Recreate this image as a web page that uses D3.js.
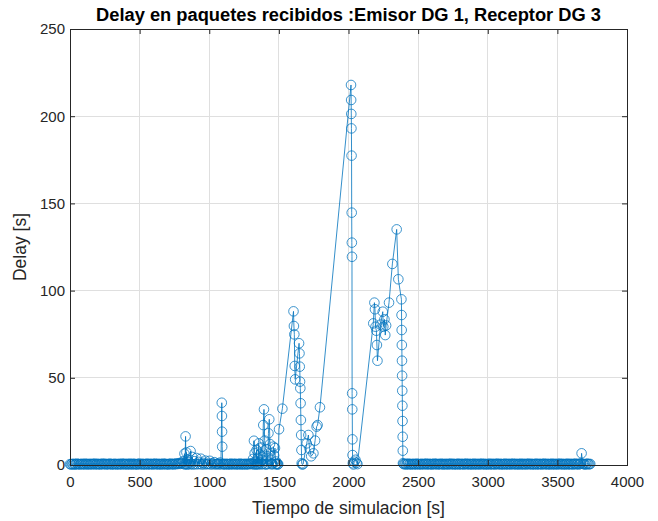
<!DOCTYPE html>
<html><head><meta charset="utf-8">
<script src="https://cdn.jsdelivr.net/npm/d3@7"></script>
<style>body{margin:0;background:#fff}</style></head>
<body>
<svg id="c" width="658" height="521"></svg>
<script>
const titleText = "Delay en paquetes recibidos :Emisor DG 1, Receptor DG 3";
const xLabel = "Tiempo de simulacion [s]";
const yLabel = "Delay [s]";
const xTicks = [0,500,1000,1500,2000,2500,3000,3500,4000];
const yTicks = [0,50,100,150,200,250];

// [tiempo (s), delay (s)]
const segA = [[0,0.5],[7,0.3],[14,0.6],[21,0.4],[28,0.7],[35,0.2],[42,0.5],[49,0.8],[56,0.4],[63,0.6],[70,0.3],[77,0.5],[84,0.7],[91,0.4],[98,0.6],[105,0.3],[112,0.8],[119,0.5],[126,0.4],[133,0.6],[140,0.3],[147,0.7],[154,0.5],[161,0.4],[168,0.6],[175,0.8],[182,0.3],[189,0.5],[196,0.7],[203,0.4],[210,0.6],[217,0.3],[224,0.5],[231,0.8],[238,0.4],[245,0.6],[252,0.7],[259,0.3],[266,0.5],[273,0.6],[280,0.4],[287,0.8],[294,0.5],[301,0.3],[308,0.6],[315,0.4],[322,0.7],[329,0.5],[336,0.3],[343,0.6],[350,0.4],[357,0.7],[364,0.5],[371,0.3],[378,0.8],[385,0.6],[392,0.4],[399,0.5],[406,0.7],[413,0.3],[420,0.6],[427,0.4],[434,0.8],[441,0.5],[448,0.3],[455,0.6],[462,0.7],[469,0.4],[476,0.5],[483,0.3],[490,0.6],[497,0.8],[504,0.4],[511,0.5],[518,0.7],[525,0.3],[532,0.6],[539,0.4],[546,0.5],[553,0.8],[560,0.3],[567,0.6],[574,0.4],[581,0.7],[588,0.5],[595,0.3],[602,0.6],[609,0.8],[616,0.4],[623,0.5],[630,0.7],[637,0.3],[644,0.6],[651,0.4],[658,0.5],[665,0.8],[672,0.3],[679,0.6],[686,0.7],[693,0.4],[700,0.5],[707,0.3],[714,0.6],[721,0.8],[728,0.4],[735,0.5],[742,0.7],[749,0.3],[756,0.6],[763,0.9],[770,0.5],[777,0.7],[784,1.1],[791,0.6],[798,1.2],[805,0.8]];
const cluster1 = [[812,2.1],[819,0.5],[822,6.5],[826,0.4],[830,16.4],[833,0.6],[836,7.2],[840,0.3],[845,3.0],[850,0.5],[856,1.5],[861,0.4],[866,8.0],[871,0.6],[878,4.6],[884,0.3],[892,2.2],[899,0.5],[908,4.0],[915,0.4],[924,1.8],[931,0.6],[940,3.6],[947,0.3],[956,1.2],[963,0.5],[972,2.5],[979,0.4],[988,0.8],[995,0.6],[1004,2.4],[1011,0.3],[1020,1.0],[1027,0.5],[1036,1.6],[1043,0.4],[1050,0.5],[1057,0.6],[1064,0.9],[1071,0.3],[1078,1.4],[1084,0.5],[1090,35.7],[1091,28.1],[1092,19.1],[1093,10.5],[1097,0.6]];
const segB = [[1101,0.4],[1108,0.6],[1115,0.3],[1122,0.7],[1129,0.5],[1136,0.4],[1143,0.6],[1150,0.3],[1157,0.8],[1164,0.5],[1171,0.4],[1178,0.6],[1185,0.7],[1192,0.3],[1199,0.5],[1206,0.6],[1213,0.4],[1220,0.8],[1227,0.3],[1234,0.6],[1241,0.5],[1248,0.4],[1255,0.7],[1262,0.3],[1269,0.6],[1276,0.5],[1283,0.4],[1290,0.8],[1297,0.6],[1304,0.9]];
const cluster2 = [[1311,0.5],[1315,3.5],[1318,0.4],[1321,13.9],[1326,6.7],[1329,0.5],[1333,2.0],[1337,0.3],[1340,8.6],[1344,0.6],[1348,4.0],[1352,0.4],[1355,12.4],[1360,1.5],[1363,0.5],[1366,6.0],[1372,10.0],[1376,0.4],[1380,3.0],[1384,0.6],[1388,22.9],[1393,31.9],[1398,14.0],[1402,0.5],[1405,2.5],[1409,0.3],[1412,9.0],[1418,5.0],[1421,0.6],[1425,18.2],[1431,26.2],[1436,12.0],[1442,3.0],[1446,0.4],[1450,1.0],[1455,0.5],[1460,10.5],[1466,5.5],[1472,9.7],[1476,0.4],[1480,2.0],[1484,0.6],[1488,0.8],[1492,0.3],[1495,0.5],[1501,20.5],[1525,32.3],[1605,88.1],[1608,79.7],[1611,74.9],[1614,56.8],[1617,49.1],[1645,69.8],[1648,64.0],[1650,56.4],[1652,47.8],[1654,44.0],[1656,35.4],[1658,25.8],[1660,17.2],[1662,8.6],[1664,1.0],[1668,0.3],[1674,0.5],[1700,12.4],[1712,17.2],[1720,9.5],[1732,5.0],[1748,6.7],[1760,14.0],[1771,22.0],[1778,22.9],[1795,33.1]];
const cluster3 = [[2018,217.9],[2019,209.3],[2020,201.3],[2021,193.0],[2022,177.4],[2023,144.7],[2024,127.5],[2025,119.4],[2026,41.1],[2027,31.9],[2028,14.7],[2029,5.7],[2031,1.0],[2036,0.3],[2042,1.9],[2050,3.0],[2058,1.2],[2064,0.5]];
const cluster4 = [[2178,81.2],[2186,93.1],[2190,89.3],[2194,79.3],[2200,77.0],[2204,68.8],[2208,59.8],[2230,80.5],[2246,87.9],[2250,79.3],[2258,83.5],[2264,74.5],[2270,80.0],[2291,93.1],[2315,115.3],[2346,135.1],[2358,106.5],[2380,95.0],[2381,86.0],[2382,77.4],[2383,68.8],[2384,59.8],[2385,51.2],[2386,42.6],[2387,34.0],[2388,25.2],[2389,16.2],[2390,8.2],[2391,1.0]];
const segC = [[2395,0.6],[2402,0.4],[2409,0.7],[2416,0.3],[2423,0.5],[2430,0.8],[2437,0.4],[2444,0.6],[2451,0.3],[2458,0.5],[2465,0.7],[2472,0.4],[2479,0.6],[2486,0.3],[2493,0.8],[2500,0.5],[2507,0.4],[2514,0.6],[2521,0.3],[2528,0.7],[2535,0.5],[2542,0.4],[2549,0.6],[2556,0.8],[2563,0.3],[2570,0.5],[2577,0.7],[2584,0.4],[2591,0.6],[2598,0.3],[2605,0.5],[2612,0.8],[2619,0.4],[2626,0.6],[2633,0.7],[2640,0.3],[2647,0.5],[2654,0.6],[2661,0.4],[2668,0.8],[2675,0.5],[2682,0.3],[2689,0.6],[2696,0.4],[2703,0.7],[2710,0.5],[2717,0.3],[2724,0.6],[2731,0.8],[2738,0.4],[2745,0.5],[2752,0.7],[2759,0.3],[2766,0.6],[2773,0.4],[2780,0.5],[2787,0.8],[2794,0.3],[2801,0.6],[2808,0.4],[2815,0.7],[2822,0.5],[2829,0.3],[2836,0.6],[2843,0.8],[2850,0.4],[2857,0.5],[2864,0.7],[2871,0.3],[2878,0.6],[2885,0.4],[2892,0.5],[2899,0.8],[2906,0.3],[2913,0.6],[2920,0.4],[2927,0.7],[2934,0.5],[2941,0.3],[2948,0.6],[2955,0.8],[2962,0.4],[2969,0.5],[2976,0.7],[2983,0.3],[2990,0.6],[2997,0.4],[3004,0.5],[3011,0.8],[3018,0.3],[3025,0.6],[3032,0.4],[3039,0.7],[3046,0.5],[3053,0.3],[3060,0.6],[3067,0.8],[3074,0.4],[3081,0.5],[3088,0.7],[3095,0.3],[3102,0.6],[3109,0.4],[3116,0.5],[3123,0.8],[3130,0.3],[3137,0.6],[3144,0.4],[3151,0.7],[3158,0.5],[3165,0.3],[3172,0.6],[3179,0.8],[3186,0.4],[3193,0.5],[3200,0.7],[3207,0.3],[3214,0.6],[3221,0.4],[3228,0.5],[3235,0.8],[3242,0.3],[3249,0.6],[3256,0.4],[3263,0.7],[3270,0.5],[3277,0.3],[3284,0.6],[3291,0.8],[3298,0.4],[3305,0.5],[3312,0.7],[3319,0.3],[3326,0.6],[3333,0.4],[3340,0.5],[3347,0.8],[3354,0.3],[3361,0.6],[3368,0.4],[3375,0.7],[3382,0.5],[3389,0.3],[3396,0.6],[3403,0.8],[3410,0.4],[3417,0.5],[3424,0.7],[3431,0.3],[3438,0.6],[3445,0.4],[3452,0.5],[3459,0.8],[3466,0.3],[3473,0.6],[3480,0.4],[3487,0.7],[3494,0.5],[3501,0.3],[3508,0.6],[3515,0.8],[3522,0.4],[3529,0.5],[3536,0.7],[3543,0.3],[3550,0.6],[3557,0.4],[3564,0.5],[3571,0.8],[3578,0.3],[3585,0.6],[3592,0.4],[3599,0.7],[3606,0.5],[3613,0.3],[3620,0.6],[3627,0.8],[3634,0.4],[3641,0.5],[3648,0.7],[3655,0.3],[3662,0.6],[3669,0.9],[3674,6.7],[3681,0.7],[3688,0.6],[3695,0.4],[3702,0.3],[3709,0.6],[3716,0.8],[3723,0.5],[3730,0.4],[3736,0.6]];

const data = [].concat(segA, cluster1, segB, cluster2, cluster3, cluster4, segC);

const W = 658, H = 521;
const m = {left:70, right:31, top:29, bottom:56};
const iw = W - m.left - m.right, ih = H - m.top - m.bottom;
const color = "#0072BD", axisColor = "#262626";
const font = "'Liberation Sans', Arial, Helvetica, sans-serif";

const svg = d3.select("#c");
const g = svg.append("g").attr("transform", `translate(${m.left},${m.top})`);

const x = d3.scaleLinear().domain([0,4000]).range([0,iw]);
const y = d3.scaleLinear().domain([0,250]).range([ih,0]);

// grid
g.append("g").selectAll("line").data(xTicks).join("line")
  .attr("x1", d=>x(d)).attr("x2", d=>x(d)).attr("y1",0).attr("y2",ih)
  .attr("stroke","#dfdfdf").attr("stroke-width",1).attr("shape-rendering","crispEdges");
g.append("g").selectAll("line").data(yTicks).join("line")
  .attr("y1", d=>y(d)).attr("y2", d=>y(d)).attr("x1",0).attr("x2",iw)
  .attr("stroke","#dfdfdf").attr("stroke-width",1).attr("shape-rendering","crispEdges");

// series
g.append("path").datum(data)
  .attr("d", d3.line().x(d=>x(d[0])).y(d=>y(d[1])))
  .attr("fill","none").attr("stroke",color).attr("stroke-width",0.8);
g.append("g").selectAll("circle").data(data).join("circle")
  .attr("cx", d=>x(d[0])).attr("cy", d=>y(d[1])).attr("r",4.8)
  .attr("fill","none").attr("stroke",color).attr("stroke-width",0.9).attr("stroke-opacity",0.85);

// axes
function styleAxis(sel){
  sel.select(".domain").remove();
  sel.selectAll(".tick line").attr("stroke",axisColor);
  sel.selectAll(".tick text").attr("fill",axisColor).style("font-family",font).style("font-size","15px");
}
g.append("g").attr("transform",`translate(0,${ih})`)
  .call(d3.axisBottom(x).tickValues(xTicks).tickFormat(d3.format("d")).tickSizeInner(-5).tickSizeOuter(0).tickPadding(11))
  .call(styleAxis);
g.append("g").call(d3.axisTop(x).tickValues(xTicks).tickFormat("").tickSizeInner(-5).tickSizeOuter(0)).call(styleAxis);
g.append("g")
  .call(d3.axisLeft(y).tickValues(yTicks).tickFormat(d3.format("d")).tickSizeInner(-5).tickSizeOuter(0).tickPadding(5))
  .call(styleAxis);
g.append("g").attr("transform",`translate(${iw},0)`)
  .call(d3.axisRight(y).tickValues(yTicks).tickFormat("").tickSizeInner(-5).tickSizeOuter(0)).call(styleAxis);

g.append("rect").attr("x",0).attr("y",0).attr("width",iw).attr("height",ih)
  .attr("fill","none").attr("stroke",axisColor).attr("stroke-width",1).attr("shape-rendering","crispEdges");

// labels
svg.append("text").attr("x", m.left+iw/2).attr("y", 514)
  .attr("text-anchor","middle").attr("fill",axisColor)
  .style("font-family",font).style("font-size","17.5px").text(xLabel);
svg.append("text").attr("transform",`translate(26,${m.top+ih/2}) rotate(-90)`)
  .attr("text-anchor","middle").attr("fill",axisColor)
  .style("font-family",font).style("font-size","17.5px").text(yLabel);
svg.append("text").attr("x", m.left+iw/2).attr("y", 21)
  .attr("text-anchor","middle").attr("fill","#000")
  .style("font-family",font).style("font-size","18.3px").style("font-weight","bold").text(titleText);
</script>
</body></html>
